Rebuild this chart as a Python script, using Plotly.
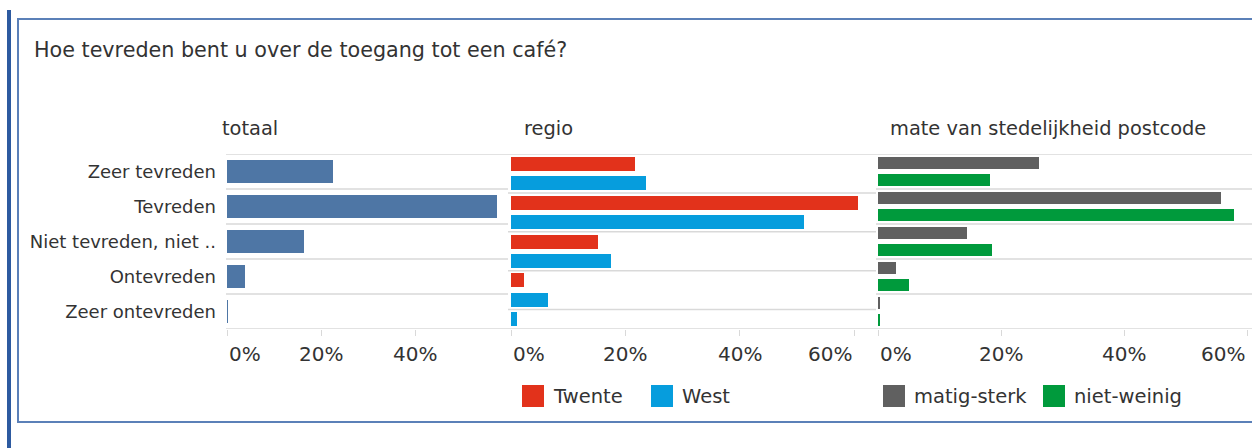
import plotly.graph_objects as go

# ---------------- data ----------------
chart_title = "Hoe tevreden bent u over de toegang tot een café?"
panel_titles = ["totaal", "regio", "mate van stedelijkheid postcode"]
categories = ["Zeer tevreden", "Tevreden", "Niet tevreden, niet ..", "Ontevreden", "Zeer ontevreden"]
totaal = [22.6, 57.4, 16.4, 3.8, 0.2]
twente = [21.7, 60.7, 15.2, 2.3, None]
west = [23.6, 51.2, 17.5, 6.5, 1.1]
matig_sterk = [26.2, 55.8, 14.5, 3.0, 0.4]
niet_weinig = [18.2, 57.9, 18.5, 5.1, 0.4]
tick_values = [0, 20, 40, 60]

# ---------------- style ----------------
W, H = 1252, 448
FONT = "DejaVu Sans"
TXT = "#333333"
GRID = "#d9d9d9"
COLORS = {
    "totaal": "#4e76a5",
    "Twente": "#e2321b",
    "West": "#069ddd",
    "matig-sterk": "#606060",
    "niet-weinig": "#009a3c",
}


def px(v):
    return v / W


def py(v):
    return 1 - v / H


# panel geometry (pixels)
panels = [
    dict(series=[("totaal", totaal)], d0=226, d1=508, zero=227, scale=4.7, bw=0.67, head=220,
         legend_x=[]),
    dict(series=[("Twente", twente), ("West", west)], d0=508, d1=876, zero=511, scale=5.72, bw=0.72, head=522,
         legend_x=[522, 651]),
    dict(series=[("matig-sterk", matig_sterk), ("niet-weinig", niet_weinig)], d0=876, d1=1252, zero=878,
         scale=6.15, bw=0.71, head=888, legend_x=[883, 1043]),
]
PLOT_TOP, PLOT_BOTTOM = 154, 329
LEGEND_Y = 396
SWATCH = 22

fig = go.Figure()
shapes = []
annotations = []

for p_i, p in enumerate(panels):
    n = p_i + 1
    xa = "x" if n == 1 else f"x{n}"
    ya = "y" if n == 1 else f"y{n}"
    # assign one slot per existing value, grouped by category
    slot_y = {name: [] for name, _ in p["series"]}
    slot_x = {name: [] for name, _ in p["series"]}
    boundaries = [-0.5]
    k = 0
    for i, _cat in enumerate(categories):
        for name, vals in p["series"]:
            if vals[i] is not None:
                slot_y[name].append(k)
                slot_x[name].append(vals[i])
                k += 1
        boundaries.append(k - 0.5)
    n_slots = k
    for name, _ in p["series"]:
        fig.add_trace(go.Bar(
            x=slot_x[name], y=slot_y[name], orientation="h", width=p["bw"],
            marker=dict(color=COLORS[name], line=dict(width=0)),
            name=name, showlegend=False, xaxis=xa, yaxis=ya,
            hovertemplate=name + ": %{x:.1f}%<extra></extra>",
        ))
    xmin = -(p["zero"] - p["d0"]) / p["scale"]
    xmax = (p["d1"] - p["zero"]) / p["scale"]
    ticks_in = [t for t in tick_values if t <= xmax]
    xaxis_cfg = dict(
        domain=[px(p["d0"]), px(p["d1"])], range=[xmin, xmax], anchor=ya,
        tickvals=ticks_in, ticks="outside", ticklen=6, tickcolor=GRID, tickwidth=1,
        showticklabels=False, showgrid=False, zeroline=False, showline=False, fixedrange=True,
    )
    yaxis_cfg = dict(
        domain=[py(PLOT_BOTTOM), py(PLOT_TOP)], range=[n_slots - 0.5, -0.5], anchor=xa,
        showgrid=False, zeroline=False, showline=False, fixedrange=True,
    )
    if n == 1:
        yaxis_cfg.update(tickvals=list(range(len(categories))), ticktext=categories,
                         showticklabels=True, ticks="", ticklabelstandoff=9,
                         tickfont=dict(family=FONT, size=18, color=TXT))
    else:
        yaxis_cfg.update(showticklabels=False, ticks="")
    fig.update_layout(**{("xaxis" if n == 1 else f"xaxis{n}"): xaxis_cfg,
                         ("yaxis" if n == 1 else f"yaxis{n}"): yaxis_cfg})
    # group separators
    for b in boundaries:
        shapes.append(dict(type="line", xref=f"{xa} domain", yref=ya, x0=0, x1=1, y0=b, y1=b,
                           line=dict(color=GRID, width=1.5), layer="below"))
    # tick labels (kept inside the pane like the original)
    for t in ticks_in:
        tick_px = p["zero"] + t * p["scale"]
        if t == 0:
            anchor = "left"
        elif tick_px + 22 > p["d1"]:
            anchor = "right"
        else:
            anchor = "center"
        annotations.append(dict(x=t, xref=xa, y=py(354), yref="paper", text=f"{t}%",
                                xanchor=anchor, yanchor="middle", showarrow=False,
                                font=dict(family=FONT, size=20, color=TXT)))
    # header
    annotations.append(dict(x=px(p["head"]), y=py(128), xref="paper", yref="paper",
                            text=panel_titles[p_i], xanchor="left", yanchor="middle",
                            showarrow=False, font=dict(family=FONT, size=19.4, color=TXT)))
    # legend for this pane
    for (name, _), lx in zip(p["series"], p["legend_x"]):
        shapes.append(dict(type="rect", xref="paper", yref="paper",
                           x0=px(lx), x1=px(lx + SWATCH),
                           y0=py(LEGEND_Y + SWATCH / 2), y1=py(LEGEND_Y - SWATCH / 2),
                           fillcolor=COLORS[name], line=dict(width=0)))
        annotations.append(dict(x=px(lx + SWATCH + 7), y=py(LEGEND_Y), xref="paper", yref="paper",
                                text=name, xanchor="left", yanchor="middle", showarrow=False,
                                font=dict(family=FONT, size=19.5, color=TXT)))

annotations.append(dict(x=px(32), y=py(50), xref="paper", yref="paper", text=chart_title,
                        xanchor="left", yanchor="middle", showarrow=False,
                        font=dict(family=FONT, size=20.7, color=TXT)))

# decorative frame
shapes.append(dict(type="rect", xref="paper", yref="paper", x0=px(7), x1=px(11), y0=py(448), y1=py(10),
                   fillcolor="#2d5aa0", line=dict(width=0), layer="below"))
shapes.append(dict(type="rect", xref="paper", yref="paper", x0=px(18), x1=px(1270), y0=py(422), y1=py(19),
                   fillcolor="rgba(0,0,0,0)", line=dict(color="#5b80b8", width=2), layer="below"))

fig.update_layout(
    width=W, height=H, margin=dict(l=0, r=0, t=0, b=0),
    paper_bgcolor="white", plot_bgcolor="white",
    font=dict(family=FONT, color=TXT),
    bargap=0, barmode="overlay",
    shapes=shapes, annotations=annotations,
    showlegend=False,
)

fig.write_html("out.html", config={"displayModeBar": False},
               post_script="document.body.style.margin='0';")
